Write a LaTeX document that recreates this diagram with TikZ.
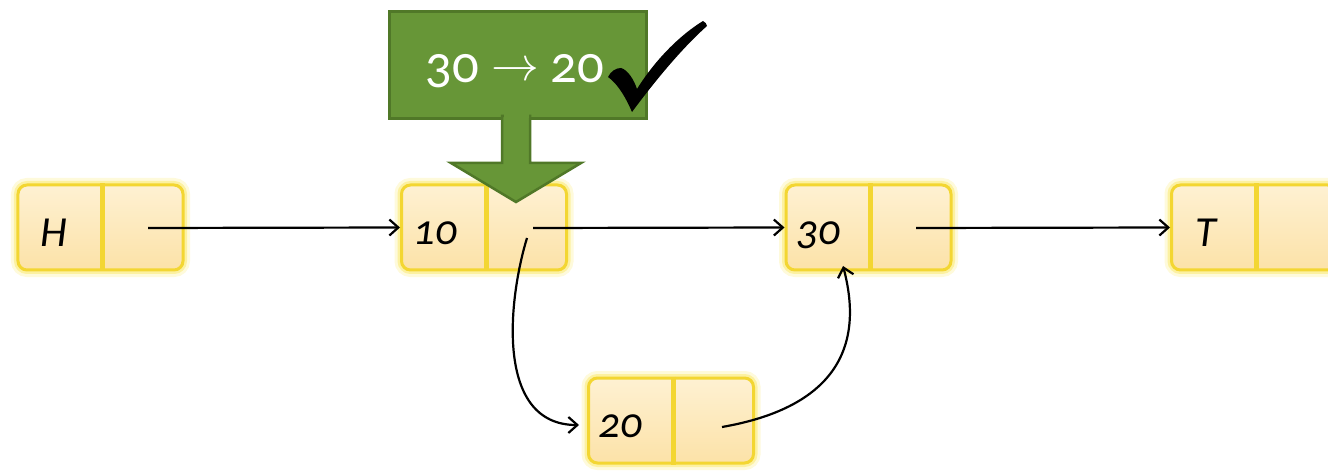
\documentclass[tikz,border=0pt]{standalone}
\usepackage{fontspec}
\usepackage{graphicx}
\setmainfont{Carlito}[Numbers=OldStyle]
\usetikzlibrary{arrows.meta}
\definecolor{cellfillA}{RGB}{254,241,210}
\definecolor{cellfillB}{RGB}{252,226,168}
\definecolor{cellborder}{RGB}{243,214,50}
\definecolor{glowcol}{RGB}{250,230,90}
\definecolor{boxgreen}{RGB}{103,150,55}
\definecolor{boxgreenline}{RGB}{80,120,40}
\newcommand{\bigarrowglyph}{\scalebox{4.8}{\fontsize{10}{12}\selectfont$\rightarrow$}}
\tikzset{
  elem/.style={minimum width=165bp, minimum height=85bp, rounded corners=9bp,
    top color=cellfillA, bottom color=cellfillB, draw=cellborder, line width=3bp,
    preaction={draw=glowcol, line width=14bp, opacity=.22},
    preaction={draw=glowcol, line width=8bp, opacity=.45}},
  divider/.style={draw=cellborder, line width=5bp},
  lab/.style={font=\fontsize{43}{43}\selectfont\itshape, text=black, anchor=base},
  link/.style={draw=black, line width=2.2bp, -{Straight Barb[length=9bp, width=16bp, line width=2.2bp]}},
}
\begin{document}
\begin{tikzpicture}[x=1bp, y=-1bp]
\useasboundingbox (0,0) rectangle (1328,472);
\clip (0,0) rectangle (1328,472);
% list elements
\node[elem] (H) at (100.5,227.5) {};
\node[elem] (N10) at (484,227.5) {};
\node[elem] (N30) at (868.5,227.5) {};
\node[elem] (T) at (1254,227.5) {};
\node[elem] (N20) at (671,420.5) {};
\foreach \n in {H,N10,N30,T,N20}{
  \draw[divider] ([xshift=2bp]\n.north) -- ([xshift=2bp]\n.south);
}
\node[lab] (Hl) at ([xshift=-47bp, yshift=-19bp]H.center) {H};
\node[lab] (N10l) at ([xshift=-49bp, yshift=-17bp]N10.center) {10};
\node[lab] (N30l) at ([xshift=-50bp, yshift=-17bp]N30.center) {30};
\node[lab] (Tl) at ([xshift=-48bp, yshift=-19bp]T.center) {T};
\node[lab] (N20l) at ([xshift=-51bp, yshift=-17bp]N20.center) {20};
% pointer starts
\coordinate (Hp) at (148,228);
\coordinate (N10p) at (533,228);
\coordinate (N10q) at (527,238);
\coordinate (N30p) at (916,228);
\coordinate (N20p) at (722,427);
\coordinate (N20in) at (579,425);
\coordinate (N30in) at (843,266);
% connectors
\draw[link] (Hp) -- (H.east -| N10.west);
\draw[link] (N10p) -- (N10.east -| N30.west);
\draw[link] (N30p) -- (N30.east -| T.west);
\draw[link] (N10q) .. controls (508,300) and (495,425) .. (N20in);
\draw[link] (N20p) .. controls (820,410) and (868,360) .. (N30in);
% green callout
\node[fill=boxgreen, draw=boxgreenline, line width=3bp, minimum width=257bp, minimum height=107bp, anchor=north west] (box) at (388,10) {};
\fill[boxgreen, draw=boxgreenline, line width=2.5bp, line join=miter]
  (502,116) -- (502,163) -- (451,163) -- (516,202) -- (581,163) -- (530,163) -- (530,116) -- cycle;
\fill[boxgreen] (503.5,110) rectangle (528.5,118);
\node[font=\fontsize{53}{53}\selectfont, text=white, anchor=base, inner sep=0pt] (rule) at (515,83) {30\hspace{12bp}\raisebox{2bp}{\bigarrowglyph}\hspace{12bp}20};
% check mark
\fill[black] (608,77) .. controls (611,71) and (616,68) .. (621,68)
  .. controls (628,70) and (634,80) .. (637,89)
  .. controls (655,60) and (680,35) .. (703,21)
  .. controls (705,22) and (707,24) .. (707,26)
  .. controls (680,50) and (652,85) .. (632,112)
  .. controls (626,98) and (618,84) .. (608,77) -- cycle;
\end{tikzpicture}
\end{document}
